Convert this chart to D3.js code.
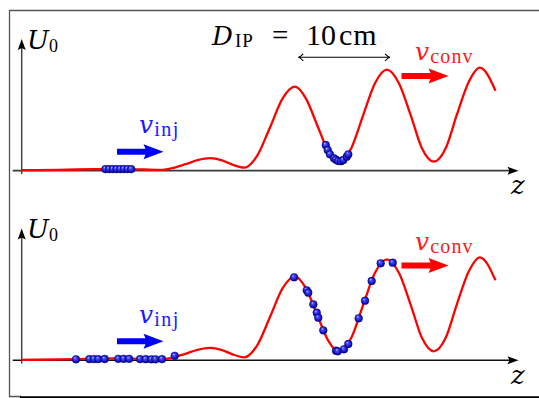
<!DOCTYPE html>
<html><head><meta charset="utf-8">
<script src="https://d3js.org/d3.v7.min.js"></script>
<style>html,body{margin:0;padding:0;background:#fff;}svg{display:block;} text{font-family:"Liberation Serif","DejaVu Serif",serif;} .mi{font-family:"DejaVu Serif",serif;font-style:italic;}</style>
</head><body>
<script>
// ---- data ----
// potential U0(z): z in cm, U in arbitrary units
const potZ = [0, 4, 8, 10, 12, 15, 16.3, 17.8, 19.1, 20.5, 21.7, 22.9, 24.2, 25.6, 27.0, 28.35, 29.7, 30.9, 32.1, 33.3, 34.5, 35.8, 37.1, 38.4, 39.7, 41.0, 42.3, 43.5, 44.8, 46.1, 47.3, 48.6, 49.8, 51.5];
const potU = [0.005, 0.008, 0.016, 0.018, 0.016, 0.008, 0.025, 0.065, 0.105, 0.125, 0.105, 0.06, 0.03, 0.15, 0.435, 0.72, 0.84, 0.72, 0.46, 0.2, 0.085, 0.22, 0.55, 0.875, 1.01, 0.875, 0.55, 0.225, 0.09, 0.227, 0.56, 0.89, 1.03, 0.80];

// top panel particles
const topPartZ = [9.1, 9.5, 9.9, 10.3, 10.7, 11.1, 11.5, 11.9, 33.05, 33.26, 33.51, 33.95, 34.16, 34.41, 34.7, 34.96, 35.33, 35.5];
const topPartU = [0.016, 0.016, 0.016, 0.016, 0.016, 0.016, 0.016, 0.016, 0.257, 0.207, 0.164, 0.124, 0.11, 0.097, 0.095, 0.107, 0.14, 0.164];

// bottom panel particles
const botPartZ = [5.9, 7.35, 7.86, 8.33, 9.02, 10.5, 11.09, 11.68, 12.86, 13.49, 14.1, 14.54, 15.25, 16.63, 29.61, 30.98, 31.15, 31.7, 32.07, 32.24, 32.78, 34.16, 34.35, 35.03, 35.5, 36.63, 37.32, 38.04, 39.02, 40.33];
const botPartU = [0.01, 0.012, 0.012, 0.012, 0.013, 0.015, 0.015, 0.015, 0.012, 0.011, 0.01, 0.01, 0.012, 0.045, 0.83, 0.70, 0.676, 0.56, 0.476, 0.426, 0.30, 0.096, 0.09, 0.11, 0.163, 0.42, 0.596, 0.793, 0.97, 0.976];

const labels = { y: "U", ySub: "0", x: "z", inj: "v", injSub: "inj", conv: "v", convSub: "conv", dip: "D", dipSub: "IP", dipEq: "=", dipNum: "10", dipUnit: "cm" };

// ---- drawing ----
const W = 539, H = 398;
const svg = d3.select("body").append("svg").attr("width", W).attr("height", H);
const defs = svg.append("defs");
const grad = defs.append("radialGradient").attr("id", "ball")
  .attr("cx", 0.5).attr("cy", 0.5).attr("r", 0.55).attr("fx", 0.35).attr("fy", 0.3);
[["0%", "#c8c8ff"], ["25%", "#4d4dff"], ["65%", "#1a1ad0"], ["100%", "#000070"]]
  .forEach(([o, c]) => grad.append("stop").attr("offset", o).attr("stop-color", c));

// frame
svg.append("path").attr("d", `M540,10.5 H9.5 V396.5 H21`).attr("fill", "none").attr("stroke", "#555").attr("stroke-width", 1.3);
svg.append("line").attr("x1", 20).attr("x2", 540).attr("y1", 397.3).attr("y2", 397.3).attr("stroke", "#000").attr("stroke-width", 2);

const x = d3.scaleLinear().domain([0, 50]).range([21.7, 21.7 + 460]);
const potential = potZ.map((z, i) => ({ z, u: potU[i] }));

function fatArrow(g, x0, x1, y, color) {
  const hl = 20, hw = 7.5, sw = 3;
  g.append("path")
    .attr("d", `M${x0},${y - sw} L${x1 - hl + 2},${y - sw} L${x1 - hl},${y - hw} L${x1},${y} L${x1 - hl},${y + hw} L${x1 - hl + 2},${y + sw} L${x0},${y + sw} Z`)
    .attr("fill", color);
}

function mathLabel(g, xPos, yBase, main, sub, color, size, subSize, subDx, ls) {
  const t = g.append("text").attr("x", xPos).attr("y", yBase).attr("fill", color);
  t.append("tspan").attr("class", "mi").style("font-size", size + "px").text(main);
  t.append("tspan").style("font-size", subSize + "px").style("letter-spacing", ls + "px")
    .attr("dx", subDx).attr("dy", 3).text(sub);
}

function panel(y0, pz, pu, axisColor, axisW) {
  const g = svg.append("g");
  const y = d3.scaleLinear().domain([0, 1]).range([y0, y0 - 100]);
  // axes
  const xa0 = x(-0.98), xaTip = x(54.0);
  g.append("line").attr("x1", xa0).attr("x2", xaTip - 8).attr("y1", y(0)).attr("y2", y(0))
    .attr("stroke", axisColor).attr("stroke-width", axisW);
  g.append("path").attr("d", `M${xaTip},${y(0)} L${xaTip - 11},${y(0) - 4} L${xaTip - 9},${y(0)} L${xaTip - 11},${y(0) + 4} Z`).attr("fill", "#000");
  const ya0 = y(-0.033), yaTip = y(1.317);
  g.append("line").attr("x1", x(0)).attr("x2", x(0)).attr("y1", ya0).attr("y2", yaTip + 8)
    .attr("stroke", "#444").attr("stroke-width", 1.5);
  g.append("path").attr("d", `M${x(0)},${yaTip} L${x(0) - 4},${yaTip + 11} L${x(0)},${yaTip + 9} L${x(0) + 4},${yaTip + 11} Z`).attr("fill", "#000");
  // potential curve
  const line = d3.line().x(d => x(d.z)).y(d => y(d.u)).curve(d3.curveMonotoneX);
  g.append("path").datum(potential).attr("d", line).attr("fill", "none")
    .attr("stroke", "#ff0000").attr("stroke-width", 2.3).attr("stroke-linejoin", "round");
  // particles
  const parts = pz.map((z, i) => ({ z, u: pu[i] }));
  g.selectAll("circle").data(parts).join("circle")
    .attr("cx", d => x(d.z)).attr("cy", d => y(d.u)).attr("r", 3.9)
    .attr("fill", "url(#ball)").attr("stroke", "#00006a").attr("stroke-width", 0.4);
  // labels
  mathLabel(g, 27, y0 - 122, labels.y, labels.ySub, "#000", 26, 18, 0, 0);
  g.append("text").attr("class", "mi").attr("x", 511).attr("y", y0 + 23.5)
    .style("font-size", "26px").text(labels.x);
  // injection arrow and label
  fatArrow(g, 117, 163.5, y0 - 19, "#0000ff");
  mathLabel(g, 139, y0 - 37.5, labels.inj, labels.injSub, "#1a1aff", 25, 20, 1, 1.5);
  // conveyor arrow and label
  fatArrow(g, 401.5, 448.5, y0 - 94.7, "#ff0000");
  mathLabel(g, 415, y0 - 110.8, labels.conv, labels.convSub, "#ff1a1a", 25, 20, 1, 1.2);
  return g;
}

panel(170.7, topPartZ, topPartU, "#3a3a3a", 1.8);
panel(360.3, botPartZ, botPartU, "#111", 1.4);

// D_IP annotation
const ann = svg.append("g");
const dt = ann.append("text").attr("y", 44.5).attr("fill", "#000");
dt.append("tspan").attr("x", 212).attr("class", "mi").style("font-size", "26px").text(labels.dip);
dt.append("tspan").attr("x", 235).attr("dy", 2).style("font-size", "19px").style("letter-spacing", "1px").text(labels.dipSub);
ann.append("text").attr("x", 272).attr("y", 44.5).style("font-size", "29px").text(labels.dipEq);
ann.append("text").attr("x", 306).attr("y", 44.5).style("font-size", "30px").text(labels.dipNum);
ann.append("text").attr("x", 339).attr("y", 44.5).style("font-size", "30px").style("letter-spacing", "1px").text(labels.dipUnit);
const ay = 57.3, ax0 = 298.3, ax1 = 390;
ann.append("line").attr("x1", ax0 + 1).attr("x2", ax1 - 1).attr("y1", ay).attr("y2", ay).attr("stroke", "#000").attr("stroke-width", 1.1);
ann.append("path").attr("d", `M${ax0 + 5},${ay - 3.5} Q${ax0 + 2},${ay - 0.5} ${ax0},${ay} Q${ax0 + 2},${ay + 0.5} ${ax0 + 5},${ay + 3.5}`)
  .attr("fill", "none").attr("stroke", "#000").attr("stroke-width", 1.1);
ann.append("path").attr("d", `M${ax1 - 5},${ay - 3.5} Q${ax1 - 2},${ay - 0.5} ${ax1},${ay} Q${ax1 - 2},${ay + 0.5} ${ax1 - 5},${ay + 3.5}`)
  .attr("fill", "none").attr("stroke", "#000").attr("stroke-width", 1.1);
</script>
</body></html>
